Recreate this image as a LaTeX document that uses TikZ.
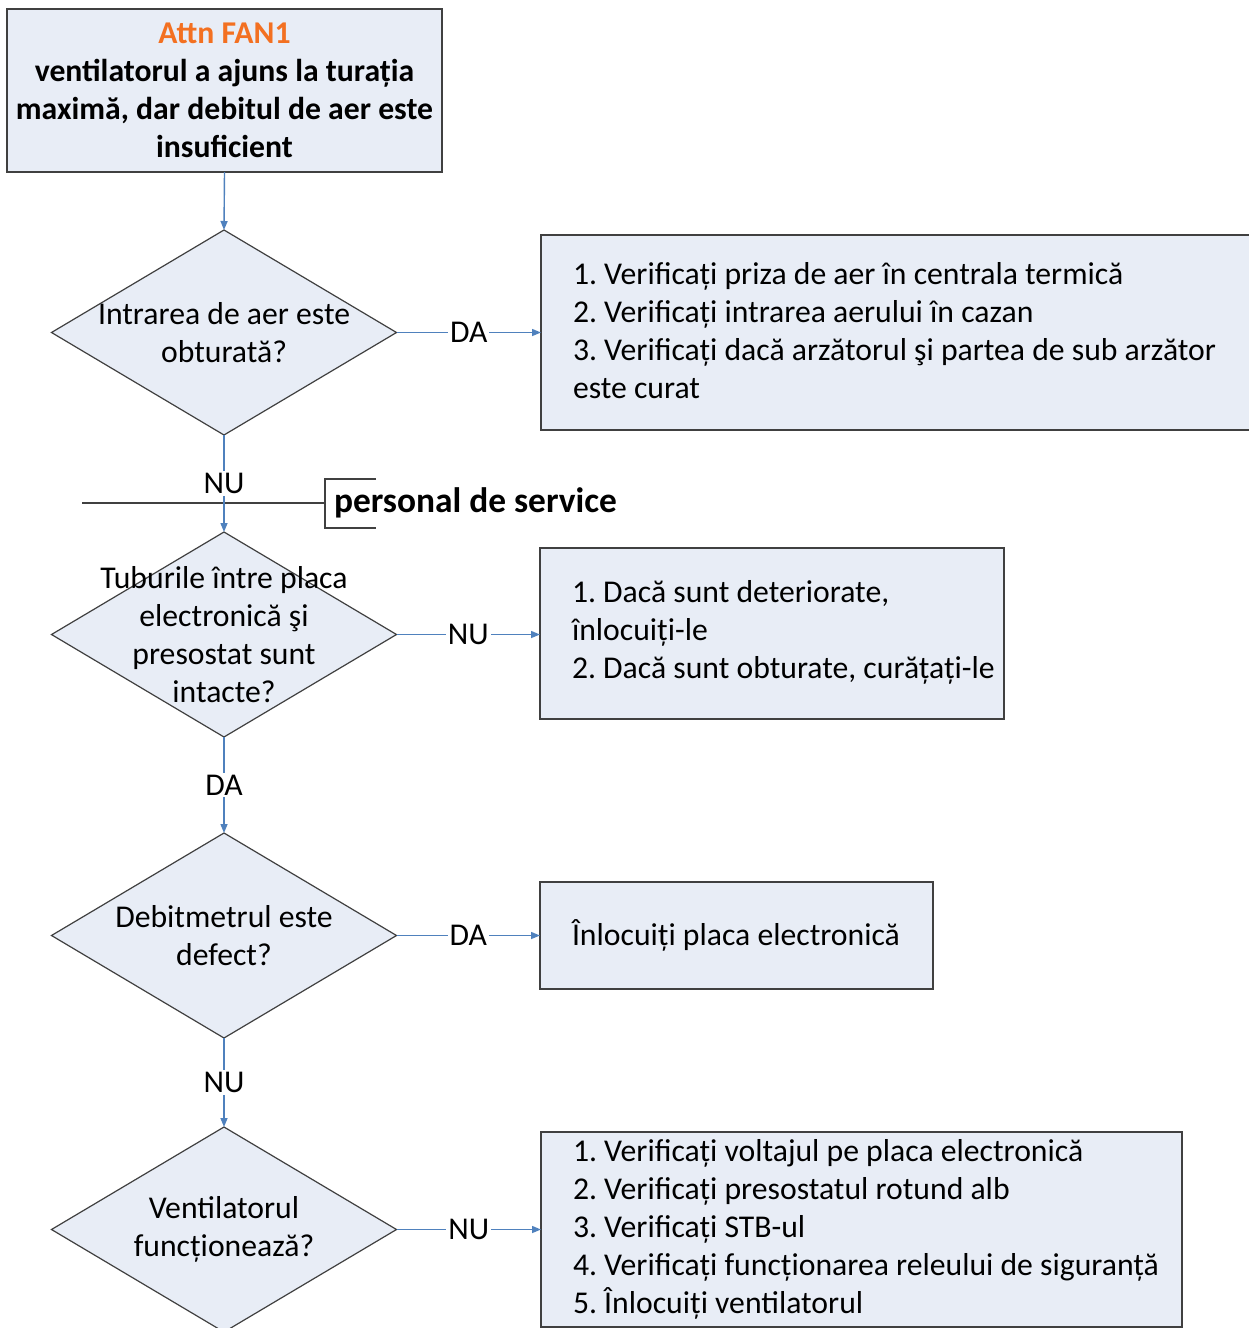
\documentclass[tikz,border=0pt]{standalone}
\usepackage{fontspec}
\setmainfont{Carlito}
\usetikzlibrary{shapes.geometric,arrows.meta}
\definecolor{boxfill}{RGB}{232,237,246}
\definecolor{boxline}{RGB}{64,64,64}
\definecolor{connc}{RGB}{79,129,189}
\definecolor{attn}{RGB}{243,112,33}
\frenchspacing
\begin{document}
\begin{tikzpicture}[x=1pt,y=-1pt,
  every node/.style={font=\fontsize{31.7}{38}\selectfont, outer sep=0pt},
  box/.style={draw=boxline, fill=boxfill, line width=1.4pt, inner sep=0pt, anchor=north west},
  btext/.style={align=left, inner sep=0pt, anchor=west},
  dia/.style={diamond, draw=boxline, fill=boxfill, line width=1.2pt, minimum width=345pt, minimum height=205pt, inner sep=0pt},
  dtext/.style={align=center, inner sep=0pt},
  conn/.style={draw=connc, line width=1.4pt, -{Triangle[length=9pt,width=7pt]}},
  lbl/.style={fill=white, inner sep=2pt},
  sep/.style={draw=boxline, line width=1.4pt}]
\useasboundingbox (0,0) rectangle (1249,1328);
\fill[white] (0,0) rectangle (1249,1328);

% title box
\node[box, minimum width=435pt, minimum height=163pt] (top) at (7,9) {};
\node[dtext, font=\bfseries\fontsize{31.7}{38}\selectfont] (topt) at (top.center)
  {\textcolor{attn}{Attn FAN1}\\ventilatorul a ajuns la turația\\maximă, dar debitul de aer este\\insuficient};

% diamonds
\node[dia] (d1) at (224,332.5) {};
\node[dtext] (d1t) at (d1.center) {Intrarea de aer este\\obturată?};
\node[dia] (d2) at (224,634.5) {};
\node[dtext] (d2t) at (d2.center) {Tuburile între placa\\electronică şi\\presostat sunt\\intacte?};
\node[dia] (d3) at (224,935.5) {};
\node[dtext] (d3t) at (d3.center) {Debitmetrul este\\defect?};
\node[dia] (d4) at (224,1229.5) {};
\node[dtext] (d4t) at (d4.center) {Ventilatorul\\funcționează?};

% action boxes
\node[box, minimum width=710pt, minimum height=195pt] (b1) at (541,235) {};
\node[btext] (b1t) at ([xshift=32pt,yshift=1.5pt]b1.west)
  {1. Verificați priza de aer în centrala termică\\2. Verificați intrarea aerului în cazan\\3. Verificați dacă arzătorul şi partea de sub arzător\\este curat};
\node[box, minimum width=464pt, minimum height=171pt] (b2) at (540,548) {};
\node[btext] (b2t) at ([xshift=32pt,yshift=1.5pt]b2.west)
  {1. Dacă sunt deteriorate,\\înlocuiți-le\\2. Dacă sunt obturate, curățați-le};
\node[box, minimum width=393pt, minimum height=107pt] (b3) at (540,882) {};
\node[btext] (b3t) at ([xshift=32pt]b3.west) {Înlocuiți placa electronică};
\node[box, minimum width=641pt, minimum height=195pt] (b4) at (541,1132) {};
\node[btext] (b4t) at ([xshift=32pt]b4.west)
  {1. Verificați voltajul pe placa electronică\\2. Verificați presostatul rotund alb\\3. Verificați STB-ul\\4. Verificați funcționarea releului de siguranță\\5. Înlocuiți ventilatorul};

% personal de service separator
\coordinate (sl) at (82,503);
\coordinate (sr) at (325,503);
\coordinate (bt) at (325,479);
\coordinate (bb) at (325,528);
\coordinate (btr) at (376,479);
\coordinate (bbr) at (376,528);
\draw[sep] (sl) -- (sr);
\draw[sep] (btr) -- (bt) -- (bb) -- (bbr);
\node[anchor=west, inner sep=0pt, font=\bfseries\fontsize{35.4}{42}\selectfont] (ps) at (334,503) {personal de service};

% connectors
\draw[conn] (top.south) -- (d1.north);
\draw[conn] (d1.east) -- node[lbl] (l1) {DA} (b1.west |- d1.east);
\draw[conn] (d1.south) -- node[lbl] (l2) {NU} (d2.north);
\draw[conn] (d2.east) -- node[lbl] (l3) {NU} (b2.west |- d2.east);
\draw[conn] (d2.south) -- node[lbl] (l4) {DA} (d3.north);
\draw[conn] (d3.east) -- node[lbl] (l5) {DA} (b3.west |- d3.east);
\draw[conn] (d3.south) -- node[lbl] (l6) {NU} (d4.north);
\draw[conn] (d4.east) -- node[lbl] (l7) {NU} (b4.west |- d4.east);
\end{tikzpicture}
\end{document}
